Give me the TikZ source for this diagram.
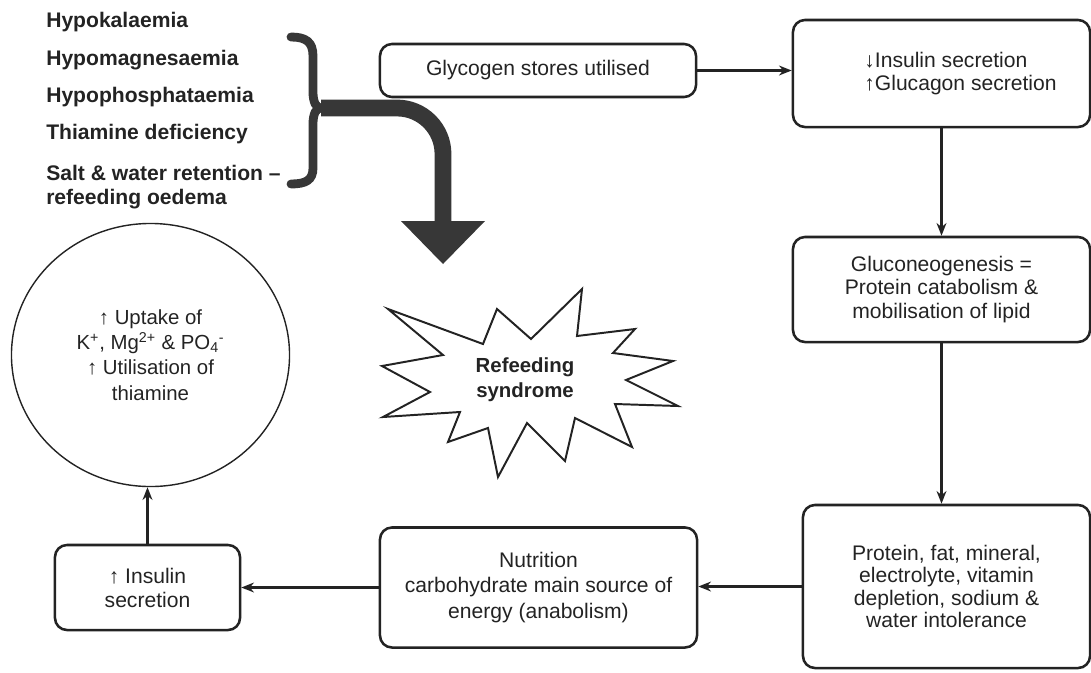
\documentclass[tikz,border=0pt]{standalone}
\usepackage{fontspec}
\setmainfont{Liberation Sans}
\usetikzlibrary{arrows.meta,shapes.geometric}

\tikzset{
  stepbox/.style={draw=inkgray, text=inkgray, line width=1.8pt, rounded corners=0.3cm, align=center, font=\fontsize{15}{17}\selectfont},
  symptom/.style={anchor=base west, inner sep=0pt, text=inkgray, font=\bfseries\fontsize{15}{17}\selectfont},
  flow/.style={draw=inkgray, line width=1.6pt, -{Stealth[length=9pt,width=7pt]}},
}

\begin{document}
\begin{tikzpicture}[x=0.025cm, y=-0.025cm]

\definecolor{inkgray}{RGB}{35,35,35}
\definecolor{bracegray}{RGB}{55,55,55}
\useasboundingbox (0,0) rectangle (1091,672);

% what goes wrong
\node[symptom] (hypok) at (46,27) {Hypokalaemia};
\node[symptom] (hypomg) at (46,65) {Hypomagnesaemia};
\node[symptom] (hypop) at (46,102) {Hypophosphataemia};
\node[symptom] (thiamine) at (46,139) {Thiamine deficiency};
\node[symptom, anchor=north west, align=left] (salt) at (46,165) {Salt \& water retention --\\refeeding oedema};

% brace and the bent arrow
\coordinate (cusp) at (321,108);
\coordinate (elbow) at (443,108);
\coordinate (tip) at (443,264);
\draw[bracegray, line width=0.22cm, line cap=round] (291,37) .. controls (306,37) and (313,42) .. (313,56) -- (313,92) .. controls (313,102) and (316,108) .. (cusp) .. controls (316,108) and (313,114) .. (313,124) -- (313,168) .. controls (313,180) and (306,184) .. (291,184);
\draw[bracegray, line width=0.42cm, rounded corners=1.15cm] (cusp) -- (elbow) -- (443,222);
\fill[bracegray] (401,221) -- (485,221) -- (tip) -- cycle;

% the starburst
\draw[inkgray, line width=1.4pt, line join=miter] (388,309) -- (483,344) -- (497,309) -- (531,339) -- (582,289) -- (577,336) -- (635,329) -- (613,353) -- (673,361) -- (626,380) -- (678,406) -- (615,404) -- (632,447) -- (575,418) -- (565,461) -- (527,423) -- (498,477) -- (488,428) -- (448,442) -- (460,412) -- (383,417) -- (430,392) -- (382,366) -- (443,355) -- cycle;
\node[align=center, text=inkgray, font=\bfseries\fontsize{14.5}{17.5}\selectfont] (syndrome) at (525,380) {Refeeding\\syndrome};

% the cycle
\node[stepbox, minimum width=7.9cm, minimum height=1.325cm] (glyco) at (538,70.5) {Glycogen stores utilised};
\node[stepbox, align=left, minimum width=7.425cm, minimum height=2.675cm] (hormone) at (941.5,73.5) {\hspace*{0.95cm}↓Insulin secretion\\\hspace*{0.95cm}↑Glucagon secretion};
\node[stepbox, minimum width=7.425cm, minimum height=2.625cm] (gluco) at (941.5,289.5) {Gluconeogenesis =\\Protein catabolism \&\\mobilisation of lipid};
\node[stepbox, font=\fontsize{15}{16}\selectfont, minimum width=7.175cm, minimum height=4.075cm] (depletion) at (946.5,586.5) {Protein, fat, mineral,\\electrolyte, vitamin\\depletion, sodium \&\\water intolerance};
\node[stepbox, font=\fontsize{15}{18}\selectfont, minimum width=7.925cm, minimum height=3cm] (nutrition) at (538.5,587.5) {Nutrition\\carbohydrate main source of\\energy (anabolism)};
\node[stepbox, minimum width=4.625cm, minimum height=2.125cm] (insulin) at (147.5,587.5) {↑ Insulin\\secretion};
\node[ellipse, draw=inkgray, text=inkgray, line width=1pt, align=center, minimum width=6.95cm, minimum height=6.575cm, font=\fontsize{14.5}{18}\selectfont] (uptake) at (150.5,355) {↑ Uptake of\\K\textsuperscript{+}, Mg\textsuperscript{2+} \& PO\textsubscript{4}\textsuperscript{-}\\↑ Utilisation of\\thiamine};

\draw[flow] (glyco.east) -- (glyco.east -| hormone.west);
\draw[flow] (hormone.south) -- (gluco.north);
\draw[flow] (gluco.south) -- (gluco.south |- depletion.north);
\draw[flow] (depletion.west) -- (depletion.west -| nutrition.east);
\draw[flow] (nutrition.west) -- (nutrition.west -| insulin.east);
\draw[flow] (insulin.north) -- (insulin.north |- uptake.south);

\end{tikzpicture}
\end{document}
